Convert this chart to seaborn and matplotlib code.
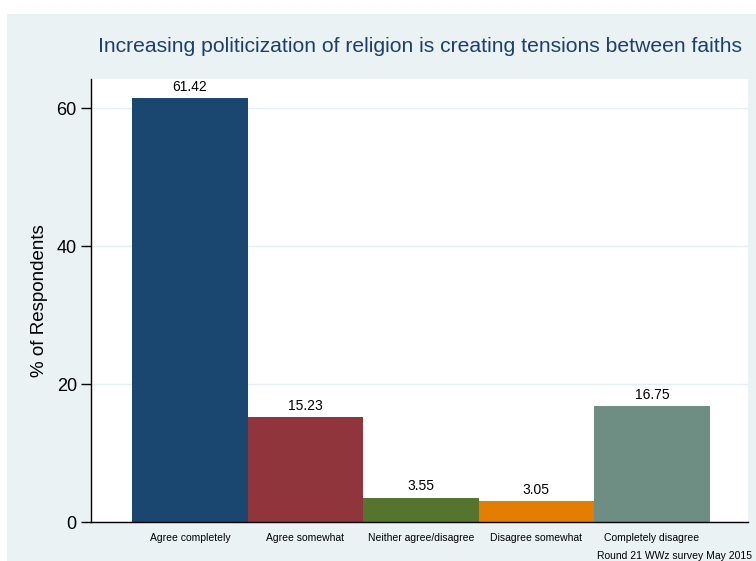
import pandas as pd
import numpy as np
import seaborn as sns
from matplotlib import pyplot as plt
from matplotlib.patches import Rectangle

categories = ["Agree completely", "Agree somewhat", "Neither agree/disagree",
              "Disagree somewhat", "Completely disagree"]
percents = [61.42, 15.23, 3.55, 3.05, 16.75]
bar_colors = ["#1a476f", "#90353b", "#55752f", "#e37e00", "#6e8e84"]
y_ticks = [0, 20, 40, 60]

title = "Increasing politicization of religion is creating tensions between faiths"
note = "Round 21 WWz survey May 2015"

sns.set_style("white")
plt.rcParams["font.family"] = ["Liberation Sans", "DejaVu Sans"]
plt.rcParams["text.color"] = "black"
plt.rcParams["axes.labelcolor"] = "black"
plt.rcParams["xtick.color"] = "black"
plt.rcParams["ytick.color"] = "black"

data = pd.DataFrame({"answer": categories, "pct": percents})

fig = plt.figure(figsize=(7.56, 5.61), dpi=100)
fig.patch.set_facecolor("white")
bg = Rectangle((7 / 756, 0), 1, (561 - 14) / 561, transform=fig.transFigure,
               facecolor="#eaf2f3", edgecolor="none", zorder=-1)
fig.patches.append(bg)

ax = fig.add_axes([0.12, 0.0695, 0.989 - 0.12, 0.859 - 0.0695])
ax.set_zorder(1)
ax.set_facecolor("white")
sns.barplot(data=data, x="answer", y="pct", hue="answer", palette=bar_colors,
            width=1.0, dodge=False, legend=False, ax=ax, saturation=1,
            linewidth=0, edgecolor="none")

for c in ax.containers:
    ax.bar_label(c, fmt="%.2f", padding=3, fontsize=10, color="black")

ax.set_xlim(-0.86, 4.83)
ax.set_ylim(0, 64.2)
ax.set_yticks(y_ticks)
ax.yaxis.grid(True, color="#e6eef1", linewidth=1)
ax.set_axisbelow(True)

for s in ["top", "right"]:
    ax.spines[s].set_visible(False)
for s in ["left", "bottom"]:
    ax.spines[s].set_color("black")
    ax.spines[s].set_linewidth(1)

ax.tick_params(axis="y", direction="out", length=7, width=1, color="black",
               labelsize=13, pad=3, left=True)
ax.tick_params(axis="x", length=0, labelsize=7.5, pad=8)
ax.set_xlabel("")
ax.set_ylabel("% of Respondents", fontsize=13.5, labelpad=6)

fig.text(0.555, 0.918, title, ha="center", va="center", fontsize=15.2,
         color="#1c3f6e")
fig.text(0.995, 0.009, note, ha="right", va="center", fontsize=7.5)

fig.savefig("out.png", dpi=100)
